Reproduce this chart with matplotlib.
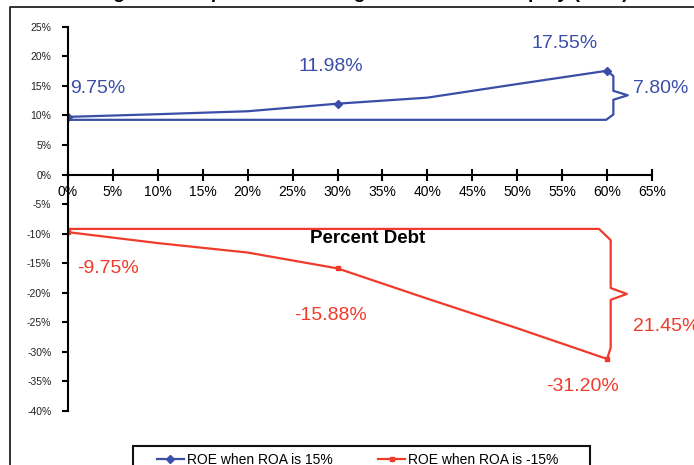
import numpy as np
import matplotlib
matplotlib.use("Agg")
import matplotlib.pyplot as plt
from matplotlib.lines import Line2D
from matplotlib.patches import Rectangle

plt.rcParams['font.family'] = ['Liberation Sans', 'DejaVu Sans']

# datos
deuda = [0, 10, 20, 30, 40, 50, 60]
roe_pos = [9.75, 10.2, 10.7, 11.98, 13.0, 15.3, 17.55]
roe_neg = [-9.75, -11.6, -13.2, -15.88, -21.0, -26.0, -31.2]
marcas = [0, 3, 6]
xticks = list(range(0, 70, 5))
yticks = list(range(-40, 30, 5))
serie_pos = "ROE when ROA is 15%"
serie_neg = "ROE when ROA is -15%"
titulo = "Figure 1.  Impacts of Leverage on Return on Equity (ROE)"

azul = '#3A4EA8'
rojo = '#EE3B2B'

fig = plt.figure(figsize=(6.94, 4.65), dpi=100)
ax = fig.add_axes([68 / 694, 1 - 411 / 465, 584 / 694, 384.3 / 465])

ax.plot(deuda, roe_pos, color=azul, lw=1.6, marker='D', ms=4, markevery=marcas,
        solid_joinstyle='round')
ax.plot(deuda, roe_neg, color=rojo, lw=1.6, marker='s', ms=3, markevery=marcas,
        solid_joinstyle='round')


# llave: linea de base y corchete que muestra la diferencia
def llave(x_fin, y_fin, y_base, bx, tx, c, d, dx):
    mid = (y_fin + y_base) / 2
    s = 1 if y_fin > y_base else -1
    xs = [x_fin, bx, bx, tx, bx, bx, bx - dx, 0]
    ys = [y_fin, y_fin - s * c, mid + s * d, mid, mid - s * d, y_base + s * c, y_base, y_base]
    return xs, ys


xs, ys = llave(deuda[-1], roe_pos[-1], roe_pos[0] - 0.5, 60.7, 62.3, 0.9, 0.75, 0.8)
ax.plot(xs, ys, color=azul, lw=1.6, solid_joinstyle='round')
xs, ys = llave(deuda[-1], roe_neg[-1], roe_neg[0] + 0.55, 60.4, 62.2, 1.9, 1.0, 1.3)
ax.plot(xs, ys, color=rojo, lw=1.6, solid_joinstyle='round')

# etiquetas de valores
fs = 14
ax.text(0.2, 14.5, f"{roe_pos[0]:.2f}%", color=azul, fontsize=fs, ha='left', va='center')
ax.text(29.2, 18.2, f"{roe_pos[3]:.2f}%", color=azul, fontsize=fs, ha='center', va='center')
ax.text(55.3, 22.1, f"{roe_pos[6]:.2f}%", color=azul, fontsize=fs, ha='center', va='center')
ax.text(62.9, 14.5, f"{roe_pos[6] - roe_pos[0]:.2f}%", color=azul, fontsize=fs,
        ha='left', va='center')
ax.text(1.0, -15.9, f"{roe_neg[0]:.2f}%", color=rojo, fontsize=fs, ha='left', va='center')
ax.text(29.2, -23.9, f"{roe_neg[3]:.2f}%", color=rojo, fontsize=fs, ha='center', va='center')
ax.text(57.3, -35.8, f"{roe_neg[6]:.2f}%", color=rojo, fontsize=fs, ha='center', va='center')
ax.text(62.9, -25.7, f"{roe_neg[0] - roe_neg[6]:.2f}%", color=rojo, fontsize=fs,
        ha='left', va='center')

ax.text(33.3, -10.8, "Percent Debt", fontsize=13.5, fontweight='bold', ha='center',
        va='center')

# ejes
ax.set_xlim(0, 65)
ax.set_ylim(-40, 25)
ax.spines['top'].set_visible(False)
ax.spines['right'].set_visible(False)
ax.spines['bottom'].set_position(('data', 0))
ax.spines['left'].set_linewidth(1.5)
ax.spines['bottom'].set_linewidth(1.5)
ax.set_xticks(xticks)
ax.set_xticklabels([f"{v}%" for v in xticks], fontsize=10)
ax.set_yticks(yticks)
ax.set_yticklabels([f"{v}%" for v in yticks], fontsize=7.5, color='#222222')
ax.tick_params(axis='x', direction='inout', length=8, width=1.5, pad=3.5)
ax.tick_params(axis='y', direction='out', length=4, width=1.5, pad=8)
ax.patch.set_visible(False)

# leyenda
h1 = Line2D([], [], color=azul, lw=1.6, marker='D', ms=4)
h2 = Line2D([], [], color=rojo, lw=1.6, marker='s', ms=3)
fig.legend([h1, h2], [serie_pos, serie_neg], loc='center left', ncol=2,
           bbox_to_anchor=(150 / 694, 1 - 460 / 465), frameon=False, fontsize=10,
           handlelength=1.95, handletextpad=0.2, columnspacing=3.3, borderpad=0)
fig.patches.append(Rectangle((133 / 694, -0.05), 457 / 694, 0.05 + 19 / 465,
                             transform=fig.transFigure, fill=False, lw=1.5,
                             edgecolor='#111111'))

# marco y titulo cortado (solo se ven los trazos inferiores)
fig.lines.append(Line2D([10 / 694, 10 / 694, 1], [0, 1 - 7 / 465, 1 - 7 / 465],
                        transform=fig.transFigure, color='#222222', lw=1.3))
fig.text(362 / 694, 1 + 1.5 / 465, titulo, fontsize=14, fontweight='bold', ha='center',
         va='baseline')

fig.savefig("out.png", dpi=100)
